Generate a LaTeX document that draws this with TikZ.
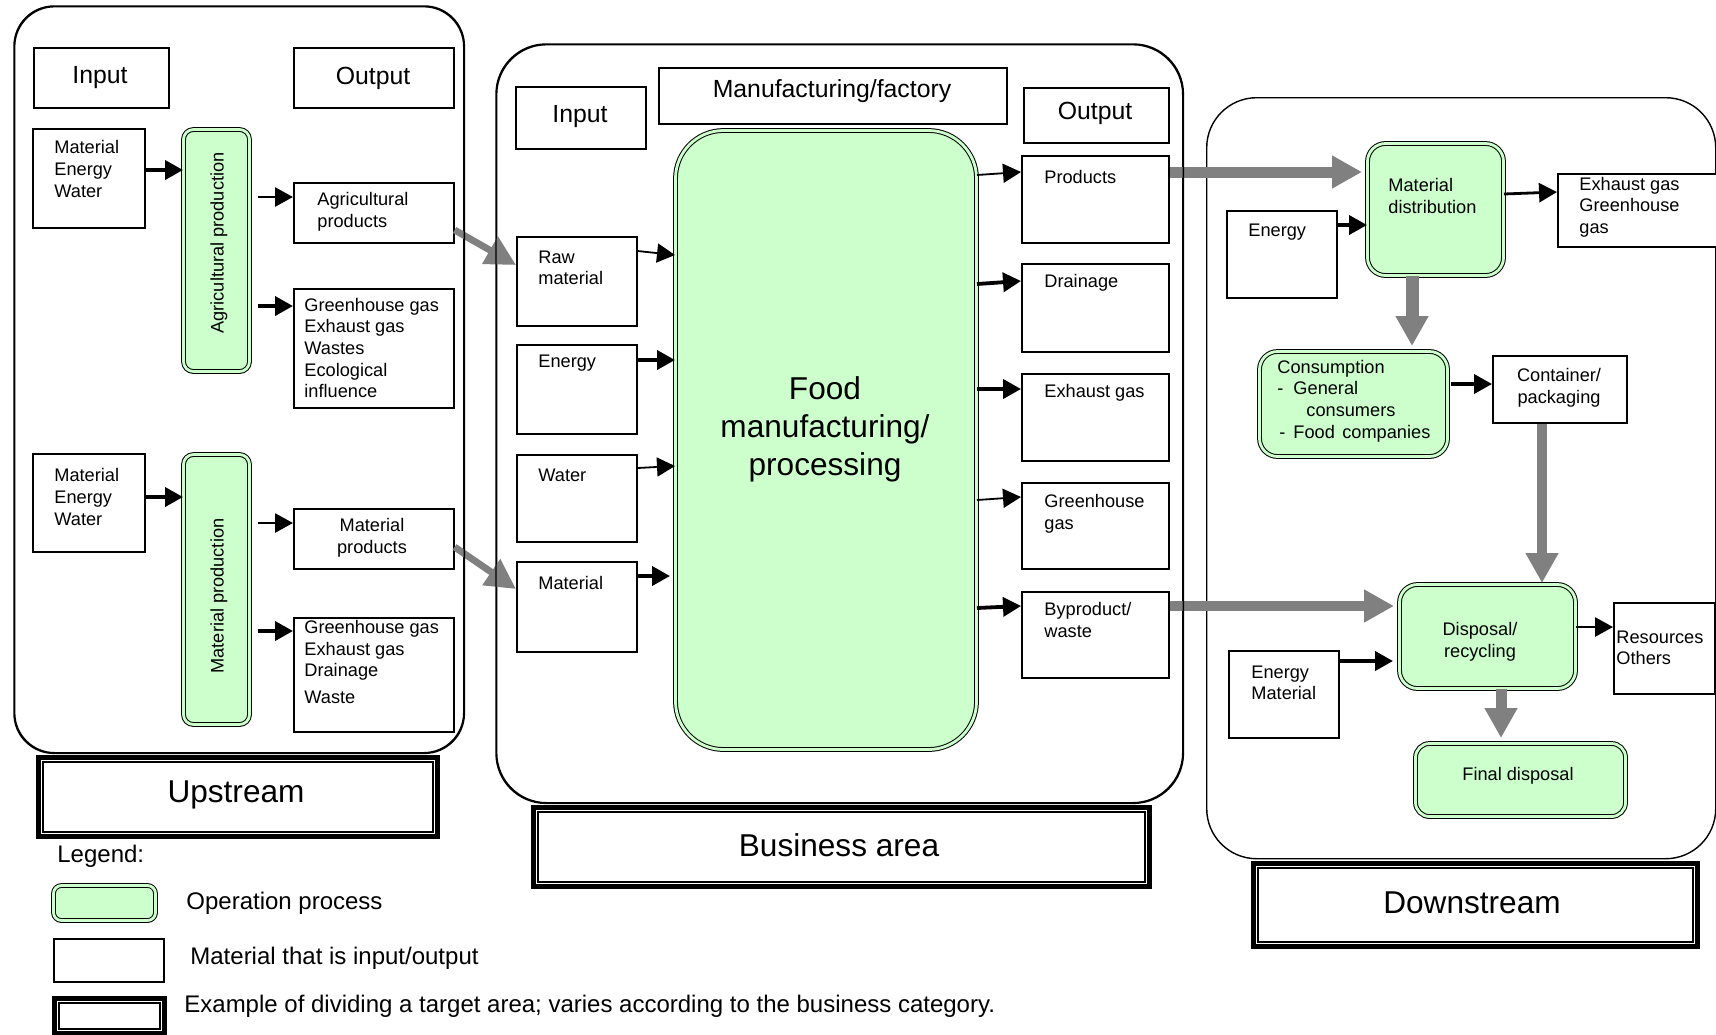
\documentclass[tikz,border=0pt]{standalone}
\usepackage{fontspec}
\setmainfont{Liberation Sans}
\usetikzlibrary{arrows.meta}
\definecolor{procg}{HTML}{CCFFCC}
\definecolor{arrg}{HTML}{808080}
\newcommand\bx[6]{\node[#1, minimum width={(#4-#2)*0.5pt}, minimum height={(#5-#3)*0.5pt}, anchor=north west] (#6) at (#2,#3) {};}
\newcommand\lbx[5]{\bx{lbl}{#1}{#2}{#3}{#4}{#5}\draw[line width=0.7pt] ([shift={(7,7)}]#5.north west) rectangle ([shift={(-7,-7)}]#5.south east);}
\tikzset{
  wbox/.style={draw, line width=0.8pt, fill=white, inner sep=0pt},
  proc/.style={draw, line width=0.5pt, double=procg, double distance=1.4pt, fill=procg, inner sep=0pt},
  frame/.style={draw, line width=0.7pt, inner sep=0pt},
  lbl/.style={draw, line width=2.5pt, fill=white, inner sep=0pt},
  blk/.style={-{Triangle[length=9pt,width=9.5pt]}, line width=1.9pt},
  blkm/.style={-{Triangle[length=9pt,width=9.5pt]}, line width=1.4pt},
  blkt/.style={-{Triangle[length=9pt,width=9.5pt]}, line width=0.9pt},
  gry/.style={-{Triangle[length=15pt,width=15.5pt]}, line width=5pt, draw=arrg},
  gryd/.style={-{Triangle[length=15pt,width=15pt]}, line width=3.4pt, draw=arrg},
  sm/.style={font=\fontsize{9.1}{10.8}\selectfont, inner sep=0pt, align=left},
  hd/.style={font=\fontsize{12.4}{15}\selectfont, inner sep=0pt},
  big/.style={font=\fontsize{15.8}{19}\selectfont, inner sep=0pt, align=center},
  lg/.style={font=\fontsize{12}{14}\selectfont, inner sep=0pt, anchor=west},
}
\begin{document}
\begin{tikzpicture}[x=0.5pt, y=-0.5pt]
\useasboundingbox[fill=white] (0,0) rectangle (1716,1034);

% ---------- boxes ----------
% frames
\bx{frame, rounded corners=20pt}{14}{6}{463}{752}{upF}
\bx{frame, rounded corners=25pt}{496}{44}{1182}{802}{bizF}
\bx{frame, rounded corners=25pt}{1206}{97}{1715}{858}{dnF}

% upstream
\bx{wbox}{33}{47}{168}{107}{uIn}
\bx{wbox}{293}{47}{453}{107}{uOut}
\bx{wbox}{32}{128}{144}{227}{mew1}
\bx{proc, rounded corners=5pt}{183}{129}{249}{371}{agri}
\bx{wbox}{293}{182}{453}{242}{agp}
\bx{wbox}{293}{288}{453}{407}{ghg1}
\bx{wbox}{32}{453}{144}{551}{mew2}
\bx{proc, rounded corners=5pt}{183}{454}{249}{724}{mprd}
\bx{wbox}{293}{508}{453}{568}{mpp}
\bx{wbox}{293}{617}{453}{731}{ghg2}

% business
\bx{wbox}{515}{86}{645}{148}{bIn}
\bx{wbox}{658}{67}{1006}{123}{mfac}
\bx{wbox}{1023}{87}{1168}{142}{bOut}
\bx{proc, rounded corners=24pt}{675}{130}{976}{749}{food}
\bx{wbox}{516}{236}{636}{325}{rawm}
\bx{wbox}{516}{344}{636}{433}{bene}
\bx{wbox}{516}{454}{636}{541}{bwat}
\bx{wbox}{516}{561}{636}{651}{bmat}
\bx{wbox}{1021}{155}{1168}{242}{prod}
\bx{wbox}{1021}{263}{1168}{351}{drn}
\bx{wbox}{1021}{373}{1168}{460}{exh}
\bx{wbox}{1021}{482}{1168}{568}{bghg}
\bx{wbox}{1021}{591}{1168}{677}{byp}

% downstream
\bx{proc, rounded corners=9pt}{1367}{143}{1503}{275}{mdist}
\bx{wbox}{1226}{210}{1336}{297}{dene}
\bx{wbox}{1557}{173}{1716}{246}{dexh}
\bx{proc, rounded corners=9pt}{1259}{351}{1447}{456}{cons}
\bx{wbox}{1492}{355}{1626}{422}{cont}
\bx{proc, rounded corners=9pt}{1399}{584}{1575}{688}{disp}
\bx{wbox}{1228}{650}{1338}{737}{dem}
\bx{wbox}{1613}{602}{1714}{693}{res}
\bx{proc, rounded corners=7pt}{1415}{743}{1625}{816}{fin}

% gray diagonal arrows (under frame lines)
\draw[gryd] (agp.east |- 0,230) -- (rawm.west |- 0,265);
\draw[gryd] (mpp.east |- 0,547) -- (bmat.west |- 0,589);
% gray arrows
\draw[gry, line width=5.5pt, shorten >=2.5pt] (prod.east |- 0,172) -- (mdist.west |- 0,172);
\draw[gry, line width=4.6pt, shorten >=2.5pt] (byp.east |- 0,606) -- (disp.west |- 0,606);
\draw[gry, line width=6.5pt, shorten >=2.5pt] (1412,0 |- mdist.south) -- (1412,0 |- cons.north);
\draw[gry, shorten >=0.5pt] (1542,0 |- cont.south) -- (1542,0 |- disp.north);
\draw[gry, line width=5.5pt, shorten >=2.5pt] (1501,0 |- disp.south) -- (1501,0 |- fin.north);

% frame lines drawn again on top of the diagonal arrows
\draw[line width=0.7pt, rounded corners=20pt] (upF.north west) rectangle (upF.south east);
\draw[line width=0.7pt, rounded corners=25pt] (bizF.north west) rectangle (bizF.south east);

% region labels
\lbx{36}{755}{435}{834}{upL}
\lbx{531}{805}{1147}{884}{bizL}
\lbx{1251}{861}{1695}{944}{dnL}

% ---------- black arrows ----------
\draw[blk] (mew1.east |- 0,170) -- (agri.west |- 0,170);
\draw[blkm, shorten <=4pt] (agri.east |- 0,197) -- (agp.west |- 0,197);
\draw[blk, shorten <=4pt] (agri.east |- 0,306) -- (ghg1.west |- 0,306);
\draw[blk] (mew2.east |- 0,497) -- (mprd.west |- 0,497);
\draw[blkm, shorten <=4pt] (mprd.east |- 0,523) -- (mpp.west |- 0,523);
\draw[blk, shorten <=4pt] (mprd.east |- 0,631) -- (ghg2.west |- 0,631);

\draw[blkt] (rawm.east |- 0,251) -- (food.west |- 0,255);
\draw[blk] (bene.east |- 0,360) -- (food.west |- 0,360);
\draw[blkt] (bwat.east |- 0,468) -- (food.west |- 0,466);
\draw[blk, shorten >=2.5pt] (bmat.east |- 0,576) -- (food.west |- 0,576);
\draw[blkt] (food.east |- 0,175) -- (prod.west |- 0,172);
\draw[blk] (food.east |- 0,284) -- (drn.west |- 0,281);
\draw[blk] (food.east |- 0,389) -- (exh.west |- 0,389);
\draw[blkt] (food.east |- 0,500) -- (bghg.west |- 0,497);
\draw[blk] (food.east |- 0,608) -- (byp.west |- 0,606);

\draw[blk] (dene.east |- 0,225) -- (mdist.west |- 0,225);
\draw[blkm] (mdist.east |- 0,194) -- (dexh.west |- 0,192);
\draw[blk, shorten <=1.5pt] (cons.east |- 0,384) -- (cont.west |- 0,384);
\draw[blk, shorten >=3pt] (dem.east |- 0,661) -- (disp.west |- 0,661);
\draw[blkm] (disp.east |- 0,627) -- (res.west |- 0,627);

% ---------- texts ----------
\node[hd] (tuIn) at (100,78) {Input};
\node[hd] (tuOut) at (373,78) {Output};
\node[sm, anchor=west] (tmew1) at (54,169) {Material\\Energy\\Water};
\node[sm, rotate=90] (tagri) at (219,243) {Agricultural production};
\node[sm, anchor=west] (tagp) at (317,212) {Agricultural\\products};
\node[sm, anchor=west] (tghg1) at (304,348) {Greenhouse gas\\Exhaust gas\\Wastes\\Ecological\\influence};
\node[sm, anchor=west] (tmew2) at (54,497) {Material\\Energy\\Water};
\node[sm, rotate=90] (tmprd) at (219,596) {Material production};
\node[sm, align=center] (tmpp) at (372,538) {Material\\products};
\node[sm, anchor=west] (tghg2) at (304,662) {Greenhouse gas\\Exhaust gas\\Drainage\\[2.5pt]Waste};
\node[big] (tupL) at (236,795) {Upstream};

\node[hd] (tbIn) at (580,117) {Input};
\node[hd] (tmfac) at (832,91) {Manufacturing/factory};
\node[hd] (tbOut) at (1095,113) {Output};
\node[big] (tfood) at (825,429) {Food\\manufacturing/\\processing};
\node[sm, anchor=west] (trawm) at (538,268) {Raw\\material};
\node[sm, anchor=west] (tbene) at (538,363) {Energy};
\node[sm, anchor=west] (tbwat) at (538,475) {Water};
\node[sm, anchor=west] (tbmat) at (538,583) {Material};
\node[sm, anchor=west] (tprod) at (1044,177) {Products};
\node[sm, anchor=west] (tdrn) at (1044,283) {Drainage};
\node[sm, anchor=west] (texh) at (1044,393) {Exhaust gas};
\node[sm, anchor=west] (tbghg) at (1044,514) {Greenhouse\\gas};
\node[sm, anchor=west] (tbyp) at (1044,620) {Byproduct/\\waste};
\node[big] (tbizL) at (839,845) {Business area};

\node[sm, anchor=west] (tmdist) at (1388,196) {Material\\distribution};
\node[sm, anchor=west] (tdene) at (1248,232) {Energy};
\node[sm, anchor=west] (tdexh) at (1579,207) {Exhaust gas\\Greenhouse\\gas};
\node[sm, anchor=west] (tcons) at (1277,401) {Consumption\\-\hspace{5pt}General\\\hspace{14.5pt}consumers\\\hspace{1pt}-\hspace{4pt}Food\hspace{3.7pt}companies};
\node[sm, align=center] (tcont) at (1559,388) {Container/\\packaging};
\node[sm, align=center] (tdisp) at (1480,642) {Disposal/\\recycling};
\node[sm, anchor=west] (tdem) at (1251,683) {Energy\\Material};
\node[sm, anchor=west] (tres) at (1616,648) {Resources\\Others};
\node[sm] (tfin) at (1518,776) {Final disposal};
\node[big] (tdnL) at (1472,903) {Downstream};

% ---------- legend ----------
\node[lg] (tleg) at (57,856) {Legend:};
\bx{proc, rounded corners=4pt}{53}{885}{155}{920}{legP}
\bx{wbox}{53}{938}{163}{981}{legW}
\lbx{52}{996}{162}{1031}{legL}
\node[lg] (tlegP) at (186,903) {Operation process};
\node[lg] (tlegW) at (190,958) {Material that is input/output};
\node[lg] (tlegL) at (184,1006) {Example of dividing a target area; varies according to the business category.};
\end{tikzpicture}
\end{document}
